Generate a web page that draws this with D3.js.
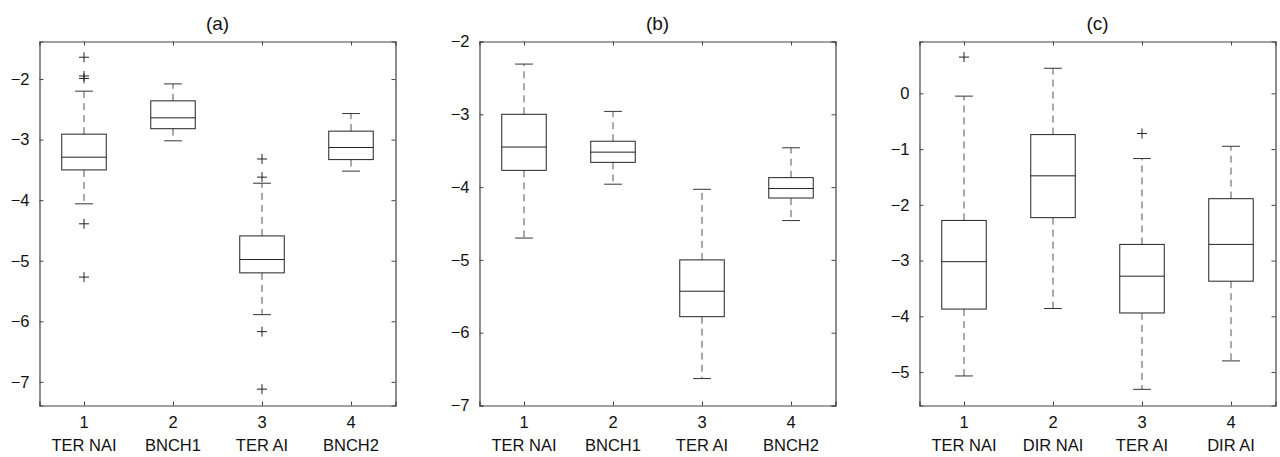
<!DOCTYPE html>
<html lang="en">
  <head>
    <meta charset="UTF-8" />
    <title>Box plots (a) (b) (c)</title>
    <style>
      body { margin: 0; background: #fff; }
      svg text { font-family: "Liberation Sans", Arial, sans-serif; fill: #111; }
    </style>
  </head>
  <body>
    <div id="chart"></div>
    <script src="https://d3js.org/d3.v7.min.js"></script>
    <script>
      // panel titles
      const titles = ["(a)", "(b)", "(c)"];

      // category labels under each group
      const labelsA = ["TER NAI", "BNCH1", "TER AI", "BNCH2"];
      const labelsB = ["TER NAI", "BNCH1", "TER AI", "BNCH2"];
      const labelsC = ["TER NAI", "DIR NAI", "TER AI", "DIR AI"];

      // box stats: [lower whisker, q1, median, q3, upper whisker]
      const statsA = [
        [-4.06, -3.50, -3.29, -2.91, -2.20],
        [-3.02, -2.82, -2.64, -2.36, -2.08],
        [-5.89, -5.20, -4.98, -4.59, -3.72],
        [-3.52, -3.33, -3.13, -2.86, -2.57]
      ];
      const statsB = [
        [-4.70, -3.77, -3.45, -3.00, -2.31],
        [-3.96, -3.66, -3.52, -3.37, -2.96],
        [-6.63, -5.78, -5.43, -5.00, -4.03],
        [-4.46, -4.15, -4.02, -3.87, -3.46]
      ];
      const statsC = [
        [-5.07, -3.87, -3.02, -2.28, -0.05],
        [-3.86, -2.23, -1.48, -0.74, 0.45],
        [-5.31, -3.94, -3.28, -2.71, -1.17],
        [-4.80, -3.37, -2.71, -1.89, -0.95]
      ];

      // outliers: [group index, value]
      const outliersA = [
        [1, -1.64], [1, -1.95], [1, -1.99], [1, -4.39], [1, -5.27],
        [3, -3.32], [3, -3.62], [3, -6.17], [3, -7.12]
      ];
      const outliersB = [];
      const outliersC = [[1, 0.65], [3, -0.72]];

      // y tick values and domains
      const ticksA = [-7, -6, -5, -4, -3, -2];
      const ticksB = [-7, -6, -5, -4, -3, -2];
      const ticksC = [-5, -4, -3, -2, -1, 0];
      const domainA = [-7.39, -1.38];
      const domainB = [-7, -2];
      const domainC = [-5.6, 0.93];

      const panels = [
        { title: titles[0], labels: labelsA, stats: statsA, outliers: outliersA, ticks: ticksA, domain: domainA, left: 39.5 },
        { title: titles[1], labels: labelsB, stats: statsB, outliers: outliersB, ticks: ticksB, domain: domainB, left: 479.5 },
        { title: titles[2], labels: labelsC, stats: statsC, outliers: outliersC, ticks: ticksC, domain: domainC, left: 919.5 }
      ];

      const W = 1280, H = 457;
      const pw = 356, plotTop = 41.5, plotBottom = 405.5;
      const axisColor = "#444";

      const svg = d3.select("#chart").append("svg")
        .attr("width", W).attr("height", H);

      panels.forEach((p) => {
        const g = svg.append("g");
        const x = d3.scaleLinear().domain([0.5, 4.5]).range([p.left, p.left + pw]);
        const y = d3.scaleLinear().domain(p.domain).range([plotBottom, plotTop]);
        const idx = [1, 2, 3, 4];

        // title
        g.append("text")
          .attr("x", p.left + pw / 2).attr("y", 30)
          .attr("text-anchor", "middle")
          .style("font-size", "19px")
          .text(p.title);

        // axes (inward ticks, box on all sides)
        g.append("g").attr("transform", `translate(0,${plotBottom})`)
          .call(d3.axisBottom(x).tickValues(idx).tickSize(-4).tickFormat(""));
        g.append("g").attr("transform", `translate(0,${plotTop})`)
          .call(d3.axisTop(x).tickValues(idx).tickSize(-4).tickFormat(""));
        g.append("g").attr("transform", `translate(${p.left},0)`)
          .call(d3.axisLeft(y).tickValues(p.ticks).tickSize(-4).tickPadding(10)
            .tickFormat((d) => (d < 0 ? "\u2212" + Math.abs(d) : d)));
        g.append("g").attr("transform", `translate(${p.left + pw},0)`)
          .call(d3.axisRight(y).tickValues(p.ticks).tickSize(-4).tickFormat(""));
        g.selectAll(".domain").attr("stroke", axisColor).attr("stroke-width", 1.2);
        g.selectAll(".tick line").attr("stroke", axisColor);
        g.selectAll(".tick text").style("font-size", "16.5px").attr("fill", "#111");

        // x labels: number and name
        idx.forEach((k, i) => {
          g.append("text").attr("x", x(k)).attr("y", 428)
            .attr("text-anchor", "middle").style("font-size", "16.5px").text(k);
          g.append("text").attr("x", x(k)).attr("y", 451)
            .attr("text-anchor", "middle").style("font-size", "16.5px").text(p.labels[i]);
        });

        const bw = x(1.25) - x(1);
        const cw = x(1.1) - x(1);

        p.stats.forEach((s, i) => {
          const cx = x(i + 1);
          const [lo, q1, med, q3, hi] = s;
          // dashed whiskers
          g.append("line").attr("x1", cx).attr("x2", cx)
            .attr("y1", y(q3)).attr("y2", y(hi))
            .attr("stroke", "#555").attr("stroke-dasharray", "7,5");
          g.append("line").attr("x1", cx).attr("x2", cx)
            .attr("y1", y(q1)).attr("y2", y(lo))
            .attr("stroke", "#555").attr("stroke-dasharray", "7,5");
          // caps
          [lo, hi].forEach((v) => {
            g.append("line").attr("x1", cx - cw).attr("x2", cx + cw)
              .attr("y1", y(v)).attr("y2", y(v)).attr("stroke", "#333");
          });
          // box
          g.append("rect").attr("x", cx - bw).attr("width", 2 * bw)
            .attr("y", y(q3)).attr("height", y(q1) - y(q3))
            .attr("fill", "none").attr("stroke", "#222");
          g.append("line").attr("x1", cx - bw).attr("x2", cx + bw)
            .attr("y1", y(med)).attr("y2", y(med)).attr("stroke", "#222");
        });

        // outliers as plus markers
        p.outliers.forEach(([k, v]) => {
          const cx = x(k), cy = y(v);
          g.append("path")
            .attr("d", `M${cx - 5},${cy}H${cx + 5}M${cx},${cy - 5}V${cy + 5}`)
            .attr("stroke", "#222").attr("fill", "none");
        });
      });
    </script>
  </body>
</html>
